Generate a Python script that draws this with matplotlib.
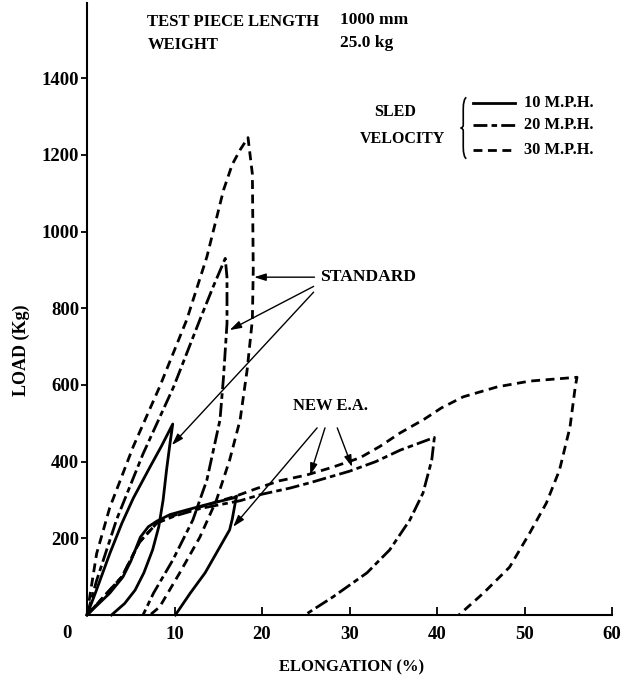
import matplotlib
matplotlib.use("Agg")
import matplotlib.pyplot as plt
from matplotlib.path import Path
from matplotlib.patches import PathPatch

# standard energy absorber, elongation [%] / load [kg]
std10_x = [0, 1.0, 2.6, 4.0, 5.3, 7.2, 8.5, 9.8, 9.5, 9.1, 8.7, 8.2, 7.5, 6.5, 5.5, 4.3, 2.8]
std10_y = [0, 60, 160, 240, 305, 386, 440, 498, 450, 380, 300, 230, 170, 110, 65, 30, 0]
std20_x = [0, 1.1, 3.4, 6.4, 9.9, 12.9, 14.4, 15.8, 16.0, 16.0, 15.6, 15.2, 13.7, 12.1, 9.8, 7.6, 6.4]
std20_y = [0, 90, 250, 420, 595, 770, 855, 930, 880, 760, 620, 509, 352, 248, 143, 57, 0]
std30_x = [0, 0.4, 1.1, 2.6, 5.3, 8.3, 11.4, 13.7, 15.6, 16.6, 17.5, 18.4, 18.9, 19.0, 18.9, 18.3,
           17.5, 16.3, 14.8, 12.9, 10.6, 8.3, 7.2]
std30_y = [0, 60, 160, 280, 440, 595, 770, 934, 1108, 1175, 1213, 1245, 1150, 900, 770, 639,
           509, 404, 300, 203, 110, 21, 0]

# new energy absorber
new10_x = [0, 2.6, 4.1, 5.0, 6.1, 7.0, 8.0, 9.5, 11.4, 14.0, 16.7, 17.1, 17.0, 16.6, 16.3, 15.0,
           13.5, 11.8, 10.1]
new10_y = [0, 57, 99, 140, 203, 230, 245, 262, 274, 290, 305, 310, 300, 250, 222, 170, 110, 57, 0]
new20_x = [0, 2.0, 4.0, 6.0, 8.0, 10.0, 13.0, 17.5, 20.0, 23.2, 25.5, 30.0, 33.0, 35.8, 38.4, 39.7,
           39.4, 38.4, 36.9, 34.6, 32.0, 28.1, 24.9]
new20_y = [0, 50, 100, 190, 240, 258, 278, 298, 315, 331, 345, 375, 400, 430, 452, 463,
           404, 318, 248, 170, 110, 47, 0]
new30_x = [0, 2.0, 4.0, 6.0, 8.0, 10.0, 13.0, 17.0, 19.4, 22.0, 25.1, 28.0, 31.2, 33.5, 35.8, 38.5,
           40.5, 43.0, 46.9, 50.6, 56.0, 55.8, 55.2, 54.0, 52.5, 50.6, 48.3, 45.3, 42.5]
new30_y = [0, 50, 100, 190, 240, 260, 282, 310, 330, 350, 365, 385, 410, 440, 475, 510,
           540, 569, 595, 610, 620, 595, 490, 378, 292, 214, 125, 57, 0]

speeds = ["10 M.P.H.", "20 M.P.H.", "30 M.P.H."]
xticks = [10, 20, 30, 40, 50, 60]
yticks = [200, 400, 600, 800, 1000, 1200, 1400]

styles = ["-", (0, (5.0, 1.5, 2.0, 1.5)), (0, (3.2, 2.0))]

plt.rcParams['font.family'] = ['Liberation Serif', 'DejaVu Serif']
plt.rcParams['font.weight'] = 'bold'

fig = plt.figure(figsize=(6.37, 6.85), dpi=100)
ax = fig.add_axes([87 / 637, 70 / 685, 525 / 637, 612 / 685])

curves = [(std10_x, std10_y, 0), (std20_x, std20_y, 1), (std30_x, std30_y, 2),
          (new10_x, new10_y, 0), (new20_x, new20_y, 1), (new30_x, new30_y, 2)]
for xs, ys, k in curves:
    ax.plot(xs, ys, color='black', lw=2.0, linestyle=styles[k], clip_on=False)

ax.set_xlim(0, 60)
ax.set_ylim(0, 1596)
ax.spines['top'].set_visible(False)
ax.spines['right'].set_visible(False)
ax.spines['left'].set_linewidth(1.5)
ax.spines['bottom'].set_linewidth(1.5)
ax.set_xticks(xticks)
ax.set_yticks(yticks)
ax.tick_params(axis='x', direction='in', length=6, width=1.3, pad=8, labelsize=13.5)
ax.tick_params(axis='y', direction='out', length=4, width=1.3, pad=1.5, labelsize=13.5)
ax.text(-2.3, -47, "0", ha='center', va='center', fontsize=13.5, clip_on=False)

fig.text(21 / 637, 1 - 350 / 685, "LOAD (Kg)", rotation=90, ha='center', va='center', fontsize=13)
fig.text(352 / 637, 1 - 667 / 685, "ELONGATION (%)", ha='center', va='center', fontsize=12)

# header
ax.text(6.9, 1547, "TEST PIECE LENGTH", ha='left', va='center', fontsize=12)
ax.text(6.9, 1487, "WEIGHT", ha='left', va='center', fontsize=12)
ax.text(28.9, 1552, "1000 mm", ha='left', va='center', fontsize=12.5)
ax.text(28.9, 1492, "25.0 kg", ha='left', va='center', fontsize=12.5)

# legend
ax.text(35.2, 1312, "SLED", ha='center', va='center', fontsize=11.5)
ax.text(36.0, 1241, "VELOCITY", ha='center', va='center', fontsize=11.5)
bx, btop, bbot = 43.0, 1350, 1190
bmid = (btop + bbot) / 2
brace = Path([(bx + 0.35, btop), (bx, btop - 5), (bx, btop - 30), (bx, bmid - 8 + 16),
              (bx, bmid), (bx - 0.3, bmid), (bx, bmid), (bx, bmid - 8),
              (bx, bbot + 30), (bx, bbot + 5), (bx + 0.35, bbot)],
             [Path.MOVETO, Path.CURVE3, Path.CURVE3, Path.LINETO,
              Path.CURVE3, Path.CURVE3, Path.CURVE3, Path.CURVE3,
              Path.LINETO, Path.CURVE3, Path.CURVE3])
ax.add_patch(PathPatch(brace, facecolor='none', edgecolor='black', lw=1.2))
leg_y = [1335, 1278, 1213]
for k, lbl in enumerate(speeds):
    ax.plot([44.1, 48.9], [leg_y[k], leg_y[k]], color='black', lw=2.0, linestyle=styles[k])
    ax.text(49.9, leg_y[k], lbl, ha='left', va='center', fontsize=11.8)

arrow = dict(arrowstyle='-|>,head_length=0.7,head_width=0.22', color='black', lw=1.0,
             shrinkA=0, shrinkB=0)

ax.text(26.6, 881, "STANDARD", ha='left', va='center', fontsize=12.6)
for tip, start in [((19.1, 881), (26.0, 881)), ((16.3, 743), (25.9, 857)), ((9.7, 443), (25.9, 842))]:
    ax.annotate("", xy=tip, xytext=start, arrowprops=arrow)

ax.text(23.5, 545, "NEW E.A.", ha='left', va='center', fontsize=12)
for tip, start in [((16.7, 230), (26.3, 488)), ((25.5, 365), (27.2, 488)), ((30.3, 386), (28.6, 488))]:
    ax.annotate("", xy=tip, xytext=start, arrowprops=arrow)

fig.savefig("out.png", dpi=100)
